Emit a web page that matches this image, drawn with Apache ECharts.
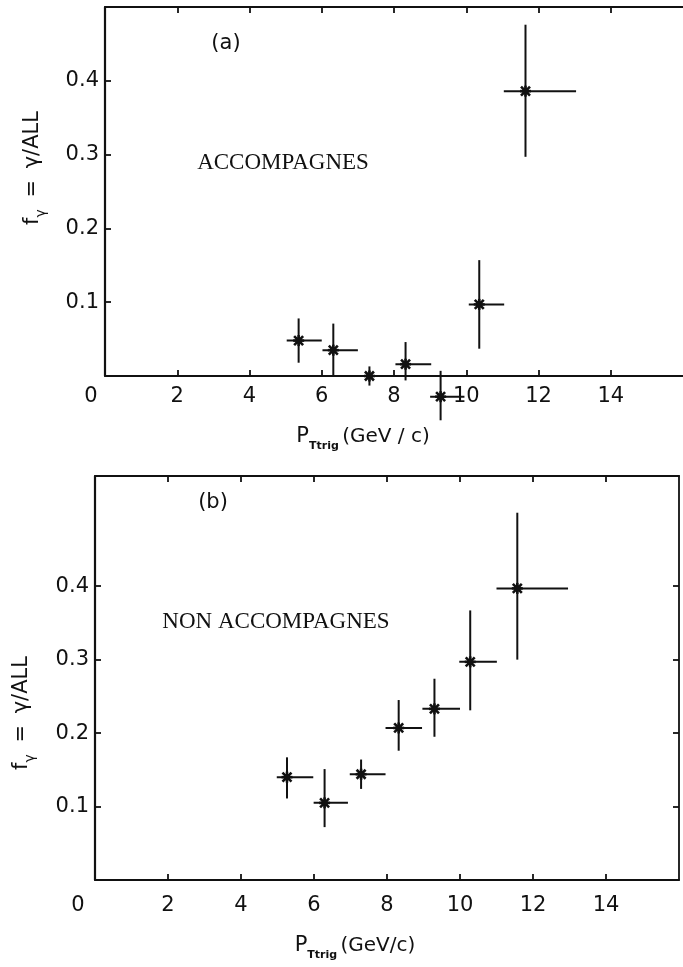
<!DOCTYPE html>
<html><head><meta charset="utf-8">
<script src="https://cdn.jsdelivr.net/npm/echarts@6/dist/echarts.min.js"></script>
<style>html,body{margin:0;padding:0;background:#fff}#c{width:683px;height:967px}</style>
</head><body><div id="c"></div>
<script>
// ---- tick values ----
const xLabelValues = [0, 2, 4, 6, 8, 10, 12, 14];
const xTickValues = [2, 4, 6, 8, 10, 12, 14];
const yTickValues = [0.1, 0.2, 0.3, 0.4];

// ---- panel (a) ACCOMPAGNES ----
const accX    = [5.36, 6.32, 7.32, 8.32, 9.29, 10.36, 11.64];
const accY    = [0.048, 0.035, 0.0, 0.016, -0.028, 0.097, 0.386];
const accXLo  = [5.03, 6.02, 7.01, 8.04, 9.0, 10.07, 11.04];
const accXHi  = [6.0, 7.0, 7.98, 9.03, 9.95, 11.05, 13.04];
const accYLo  = [0.018, 0.0, -0.013, -0.006, -0.060, 0.037, 0.297];
const accYHi  = [0.078, 0.071, 0.013, 0.046, 0.007, 0.157, 0.476];

// ---- panel (b) NON ACCOMPAGNES ----
const nonX    = [5.26, 6.29, 7.29, 8.32, 9.30, 10.28, 11.57];
const nonY    = [0.140, 0.105, 0.144, 0.207, 0.233, 0.297, 0.397];
const nonXLo  = [4.98, 5.99, 6.98, 7.96, 8.97, 9.98, 11.0];
const nonXHi  = [5.98, 6.93, 7.96, 8.96, 10.0, 11.01, 12.96];
const nonYLo  = [0.111, 0.072, 0.124, 0.176, 0.195, 0.231, 0.300];
const nonYHi  = [0.167, 0.151, 0.164, 0.245, 0.274, 0.367, 0.500];

const INK = '#111';
const NUMFONT = "'DejaVu Sans', sans-serif";

function rows(x, y, xl, xh, yl, yh) {
  return x.map((v, i) => [v, y[i], xl[i], xh[i], yl[i], yh[i]]);
}

function renderItem(params, api) {
  const c = api.coord([api.value(0), api.value(1)]);
  const l = api.coord([api.value(2), api.value(1)]);
  const r = api.coord([api.value(3), api.value(1)]);
  const lo = api.coord([api.value(0), api.value(4)]);
  const hi = api.coord([api.value(0), api.value(5)]);
  const s = 4.5;
  const st = { stroke: INK, lineWidth: 2 };
  const st2 = { stroke: INK, lineWidth: 2.6 };
  return {
    type: 'group',
    children: [
      { type: 'line', shape: { x1: l[0], y1: l[1], x2: r[0], y2: r[1] }, style: st },
      { type: 'line', shape: { x1: lo[0], y1: lo[1], x2: hi[0], y2: hi[1] }, style: st },
      { type: 'line', shape: { x1: c[0] - s, y1: c[1] - s, x2: c[0] + s, y2: c[1] + s }, style: st2 },
      { type: 'line', shape: { x1: c[0] - s, y1: c[1] + s, x2: c[0] + s, y2: c[1] - s }, style: st2 },
      { type: 'line', shape: { x1: c[0] - s - 1, y1: c[1], x2: c[0] + s + 1, y2: c[1] }, style: st2 },
      { type: 'line', shape: { x1: c[0], y1: c[1] - s - 1, x2: c[0], y2: c[1] + s + 1 }, style: st2 },
      { type: 'circle', shape: { cx: c[0], cy: c[1], r: 3.2 }, style: { fill: INK } }
    ]
  };
}

const lineStyle = { color: INK, width: 1.8 };

function xAxes(gi, zeroShift, margin) {
  return [
    {
      gridIndex: gi, type: 'value', min: 0, max: 16, position: 'bottom',
      axisLine: { show: true, onZero: false, lineStyle },
      axisTick: { show: true, inside: true, length: 6, customValues: xTickValues, lineStyle },
      axisLabel: {
        customValues: xLabelValues, margin: margin,
        color: INK, fontFamily: NUMFONT, fontSize: 21,
        formatter: v => v === 0 ? '{z|0}' : String(v),
        rich: { z: { fontFamily: NUMFONT, fontSize: 21, color: INK, padding: [0, zeroShift, 0, 0] } }
      },
      splitLine: { show: false }
    },
    {
      gridIndex: gi, type: 'value', min: 0, max: 16, position: 'top',
      axisLine: { show: true, onZero: false, lineStyle },
      axisTick: { show: true, inside: true, length: 6, customValues: xTickValues, lineStyle },
      axisLabel: { show: false },
      splitLine: { show: false }
    }
  ];
}

function yAxes(gi, max, showRight) {
  return [
    {
      gridIndex: gi, type: 'value', min: 0, max: max, position: 'left',
      axisLine: { show: true, onZero: false, lineStyle: { color: INK, width: 2.2 } },
      axisTick: { show: true, inside: true, length: 6, customValues: yTickValues, lineStyle },
      axisLabel: {
        customValues: yTickValues, margin: 6,
        color: INK, fontFamily: NUMFONT, fontSize: 21,
        formatter: v => v.toFixed(1)
      },
      splitLine: { show: false }
    },
    {
      gridIndex: gi, type: 'value', min: 0, max: max, position: 'right',
      axisLine: { show: showRight, onZero: false, lineStyle },
      axisTick: { show: showRight, inside: true, length: 6, customValues: yTickValues, lineStyle },
      axisLabel: { show: false },
      splitLine: { show: false }
    }
  ];
}

function xTitle(cx, cy, gev) {
  return {
    type: 'text', x: cx, y: cy,
    style: {
      text: '{p|P}{s|Ttrig} {u|' + gev + '}',
      align: 'center', verticalAlign: 'middle',
      rich: {
        p: { fontFamily: NUMFONT, fontSize: 21, fill: INK, lineHeight: 30, verticalAlign: 'middle' },
        s: { fontFamily: NUMFONT, fontSize: 11, fontWeight: 'bold', fill: INK, lineHeight: 30, verticalAlign: 'bottom' },
        u: { fontFamily: NUMFONT, fontSize: 20, fill: INK, lineHeight: 30, verticalAlign: 'middle' }
      }
    }
  };
}

function yTitle(cx, cy) {
  return {
    type: 'text', x: cx, y: cy, rotation: Math.PI / 2,
    style: {
      text: '{f|f}{s|γ}{e| = }{g|γ/ALL}',
      align: 'center', verticalAlign: 'middle',
      rich: {
        f: { fontFamily: NUMFONT, fontSize: 21, fill: INK, lineHeight: 30, verticalAlign: 'middle' },
        s: { fontFamily: NUMFONT, fontSize: 14, fill: INK, lineHeight: 30, verticalAlign: 'bottom' },
        e: { fontFamily: NUMFONT, fontSize: 21, fill: INK, lineHeight: 30, verticalAlign: 'middle', padding: [0, 5, 0, 5] },
        g: { fontFamily: NUMFONT, fontSize: 21, fill: INK, lineHeight: 30, verticalAlign: 'middle' }
      }
    }
  };
}

const chart = echarts.init(document.getElementById('c'), null, { renderer: 'canvas' });
chart.setOption({
  backgroundColor: '#fff',
  animation: false,
  grid: [
    { left: 105, top: 7, width: 582, height: 369 },
    { left: 95, top: 476, width: 584, height: 404 }
  ],
  xAxis: [...xAxes(0, 28, 10), ...xAxes(1, 34, 15)],
  yAxis: [...yAxes(0, 0.5, false), ...yAxes(1, 0.55, true)],
  series: [
    {
      type: 'custom', name: 'ACCOMPAGNES', xAxisIndex: 0, yAxisIndex: 0,
      renderItem, clip: false, encode: { x: 0, y: 1 },
      data: rows(accX, accY, accXLo, accXHi, accYLo, accYHi)
    },
    {
      type: 'custom', name: 'NON ACCOMPAGNES', xAxisIndex: 2, yAxisIndex: 2,
      renderItem, clip: false, encode: { x: 0, y: 1 },
      data: rows(nonX, nonY, nonXLo, nonXHi, nonYLo, nonYHi)
    }
  ],
  graphic: [
    { type: 'text', x: 226, y: 44, style: { text: '(a)', align: 'center', verticalAlign: 'middle', fontFamily: NUMFONT, fontSize: 21, fill: INK } },
    { type: 'text', x: 283, y: 163, style: { text: 'ACCOMPAGNES', align: 'center', verticalAlign: 'middle', fontFamily: "'Liberation Serif', serif", fontSize: 23, fill: INK } },
    { type: 'text', x: 213, y: 503, style: { text: '(b)', align: 'center', verticalAlign: 'middle', fontFamily: NUMFONT, fontSize: 21, fill: INK } },
    { type: 'text', x: 276, y: 622, style: { text: 'NON ACCOMPAGNES', align: 'center', verticalAlign: 'middle', fontFamily: "'Liberation Serif', serif", fontSize: 23, fill: INK } },
    xTitle(363, 437, '(GeV / c)'),
    xTitle(355, 946, '(GeV/c)'),
    yTitle(33, 168),
    yTitle(22, 713)
  ]
});
</script>
</body></html>
